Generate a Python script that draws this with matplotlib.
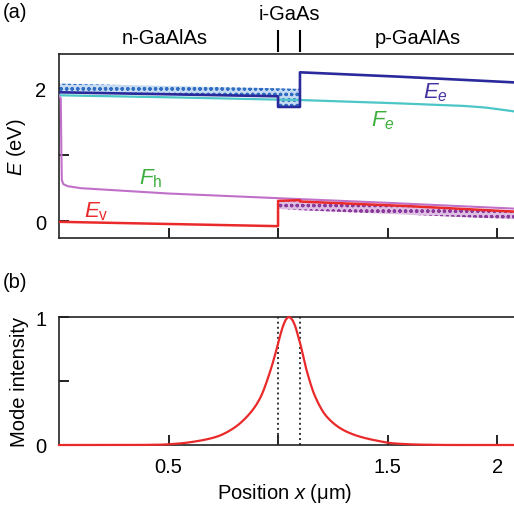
import numpy as np
import matplotlib
matplotlib.use('Agg')
import matplotlib.pyplot as plt

plt.rcParams['font.family'] = ['Liberation Sans', 'DejaVu Sans']
plt.rcParams['mathtext.fontset'] = 'custom'
plt.rcParams['mathtext.rm'] = 'Liberation Sans'
plt.rcParams['mathtext.it'] = 'Liberation Sans:italic'
plt.rcParams['hatch.linewidth'] = 0.9

# DATA (position in um, energy in eV)
# conduction band edge E_e
x_Ee = [0, 0.5, 1.0, 1.0, 1.1, 1.1, 1.55, 2.1]
Ee = [1.94, 1.91, 1.88, 1.72, 1.72, 2.24, 2.175, 2.085]
# electron quasi-Fermi level F_e
x_Fe = [0, 0.5, 1.0, 1.1, 1.55, 1.85, 1.95, 2.07, 2.1]
Fe = [1.895, 1.865, 1.83, 1.824, 1.774, 1.735, 1.71, 1.657, 1.64]
# hole quasi-Fermi level F_h
x_Fh = [0, 0.008, 0.011, 0.013, 0.02, 0.04, 0.1, 0.5, 1.0, 1.5, 2.1]
Fh = [1.88, 1.85, 1.0, 0.62, 0.56, 0.53, 0.50, 0.42, 0.35, 0.28, 0.19]
# valence band edge E_v
x_Ev = [0, 1.0, 1.0, 1.1, 1.1, 1.6, 2.1]
Ev = [-0.005, -0.07, 0.31, 0.32, 0.30, 0.23, 0.145]
# electron population band
x_elec = [0, 1.0, 1.0, 1.1]
elec_hi = [2.07, 2.0, 2.0, 1.99]
elec_lo = [1.94, 1.88, 1.72, 1.72]
# hole population band
x_hole = [1.0, 1.1, 1.6, 2.1]
hole_hi = [0.31, 0.30, 0.22, 0.145]
hole_lo = [0.19, 0.17, 0.10, 0.03]

# optical mode intensity
x_mode = [0, 0.3, 0.45, 0.55, 0.644, 0.72, 0.796, 0.872, 0.918, 0.963, 1.003,
          1.012, 1.024, 1.037, 1.05, 1.064, 1.078, 1.09, 1.10, 1.131, 1.169,
          1.222, 1.298, 1.374, 1.451, 1.525, 1.65, 1.8, 2.1]
mode = [0, 0, 0.002, 0.012, 0.034, 0.065, 0.13, 0.248, 0.366, 0.57, 0.81,
        0.87, 0.935, 0.983, 1.0, 0.98, 0.93, 0.86, 0.80, 0.58, 0.38,
        0.222, 0.117, 0.065, 0.034, 0.013, 0.003, 0, 0]

layer_edges = [1.0, 1.1]


def smooth_path(x, y, n=20):
    # monotone cubic (PCHIP-style) curve through the read points, for drawing only
    x = np.asarray(x, float)
    y = np.asarray(y, float)
    h = np.diff(x)
    d = np.diff(y) / h
    m = np.zeros_like(y)
    for i in range(1, len(x) - 1):
        if d[i - 1] * d[i] > 0:
            w1 = 2 * h[i] + h[i - 1]
            w2 = h[i] + 2 * h[i - 1]
            m[i] = (w1 + w2) / (w1 / d[i - 1] + w2 / d[i])
    xs, ys = [], []
    for i in range(len(x) - 1):
        t = np.linspace(0, 1, n, endpoint=False)
        h00 = 2 * t**3 - 3 * t**2 + 1
        h10 = t**3 - 2 * t**2 + t
        h01 = -2 * t**3 + 3 * t**2
        h11 = t**3 - t**2
        xs.append(x[i] + t * h[i])
        ys.append(h00 * y[i] + h10 * h[i] * m[i] + h01 * y[i + 1] + h11 * h[i] * m[i + 1])
    xs.append([x[-1]])
    ys.append([y[-1]])
    return np.concatenate(xs), np.concatenate(ys)


W, H = 514, 510
fig = plt.figure(figsize=(W / 100, H / 100), dpi=100)


def ax_rect(left, top, right, bottom):
    return [left / W, 1 - bottom / H, (right - left) / W, (bottom - top) / H]


ax1 = fig.add_axes(ax_rect(59, 55, 519, 239))
ax2 = fig.add_axes(ax_rect(59, 318, 519, 446))

FS = 14.5
LFS = 16

# (a) band diagram
ax1.fill_between(x_elec, elec_lo, elec_hi, facecolor='#c6daf1',
                 edgecolor='#2f6ec2', hatch='ooo', linewidth=0, zorder=2)
ax1.fill_between(x_hole, hole_lo, hole_hi, facecolor='#dcbfe3',
                 edgecolor='#8a3a9c', hatch='ooo', linewidth=0, zorder=2)
ax1.plot(x_Fe, Fe, color='#4cc6c6', lw=1.6, zorder=3)
ax1.plot(x_Fh, Fh, color='#c070c8', lw=1.5, zorder=3)
ax1.plot(x_Ee, Ee, color='#2a2a9c', lw=1.9, zorder=4)
ax1.plot(x_Ev, Ev, color='#ea2a2a', lw=1.8, zorder=4)

ax1.set_xlim(0, 2.1)
ax1.set_ylim(-0.248, 2.515)
ax1.set_xticks([0.5, 1.0, 1.5, 2.0])
ax1.set_xticklabels([])
ax1.set_yticks([0, 1, 2])
ax1.set_yticklabels(['0', '', '2'])
ax1.set_ylabel(r'$E$ (eV)', fontsize=FS)
ax1.yaxis.set_label_coords(-0.068, 0.5)

ax1.text(1.72, 1.95, r'$E_e$', color='#4434a2', fontsize=LFS, ha='center', va='center')
ax1.text(1.48, 1.53, r'$F_e$', color='#3cae3c', fontsize=LFS, ha='center', va='center')
ax1.text(0.42, 0.66, r'$F_\mathrm{h}$', color='#3cae3c', fontsize=LFS, ha='center', va='center')
ax1.text(0.17, 0.165, r'$E_\mathrm{v}$', color='#ea2a2a', fontsize=LFS, ha='center', va='center')

trans = ax1.get_xaxis_transform()
for xe in layer_edges:
    ax1.plot([xe, xe], [1.016, 1.125], transform=trans, color='black',
             lw=1.5, clip_on=False)
ax1.text(0.484, 1.092, 'n-GaAlAs', transform=trans, fontsize=FS, ha='center', va='center')
ax1.text(1.64, 1.092, 'p-GaAlAs', transform=trans, fontsize=FS, ha='center', va='center')
ax1.text(1.05, 1.222, 'i-GaAs', transform=trans, fontsize=FS, ha='center', va='center')

# (b) mode intensity
xm, ym = smooth_path(x_mode, mode)
ax2.plot(xm, ym, color='#ea2a2a', lw=1.6, zorder=3, clip_on=False)
for xe in layer_edges:
    ax2.axvline(xe, color='#333333', lw=1.4, ls=(0, (1, 1.6)), zorder=2)
ax2.set_xlim(0, 2.1)
ax2.set_ylim(0, 1)
ax2.set_xticks([0.5, 1.0, 1.5, 2.0])
ax2.set_xticklabels(['0.5', '', '1.5', '2'])
ax2.set_yticks([0, 0.5, 1])
ax2.set_yticklabels(['0', '', '1'])
ax2.set_ylabel('Mode intensity', fontsize=FS)
ax2.yaxis.set_label_coords(-0.066, 0.5)
ax2.set_xlabel(r'Position $x$ ($\mathrm{\mu}$m)', fontsize=FS)
ax2.xaxis.set_label_coords(226 / 460, -0.28)

for ax in (ax1, ax2):
    ax.spines['right'].set_visible(False)
    for s in ('left', 'top', 'bottom'):
        ax.spines[s].set_linewidth(1.2)
        ax.spines[s].set_color('#222222')
    ax.tick_params(direction='in', length=7, width=1.4, labelsize=FS,
                   pad=9, color='#222222')

fig.text(15 / W, 1 - 12 / H, '(a)', fontsize=FS, ha='center', va='center')
fig.text(15 / W, 1 - 283 / H, '(b)', fontsize=FS, ha='center', va='center')

fig.savefig('out.png', dpi=100)
